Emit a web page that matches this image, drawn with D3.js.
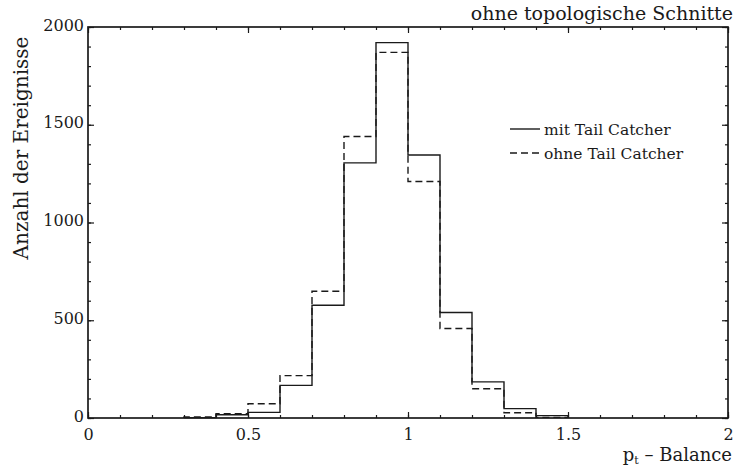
<!DOCTYPE html>
<html><head><meta charset="utf-8">
<script src="https://cdn.jsdelivr.net/npm/d3@7"></script>
<style>
body{margin:0;background:#fff;}
text{font-family:"DejaVu Serif",serif;fill:#1a1a1a;}
</style></head>
<body><svg id="c" width="735" height="470"></svg>
<script>
// data
const binStarts = [0.3,0.4,0.5,0.6,0.7,0.8,0.9,1.0,1.1,1.2,1.3,1.4];
const binWidth = 0.1;
const mitTail = [2,17,29,167,577,1305,1920,1345,540,185,48,12];
const ohneTail = [6,22,73,217,648,1440,1870,1210,458,150,27,3];
const xMajor = [0,0.5,1,1.5,2];
const xMajorLabels = ["0","0.5","1","1.5","2"];
const yMajor = [0,500,1000,1500,2000];
const seriesNames = ["mit Tail Catcher","ohne Tail Catcher"];
const title = "ohne topologische Schnitte";
const yTitle = "Anzahl der Ereignisse";

const svg = d3.select("#c");
const L=88,R=728,T=27,B=418;
const x = d3.scaleLinear().domain([0,2]).range([L,R]);
const y = d3.scaleLinear().domain([0,2000]).range([B,T]);
const col="#1a1a1a";

const minorX = d3.range(0,2.0001,0.1);
const minorY = d3.range(0,2000.1,100);

function styleAxis(g){g.select(".domain").remove();g.selectAll("line").attr("stroke",col).attr("stroke-width",1.2);}
// bottom
svg.append("g").attr("transform",`translate(0,${B})`)
 .call(d3.axisBottom(x).tickValues(minorX).tickSize(-3).tickFormat(""))
 .call(styleAxis);
svg.append("g").attr("transform",`translate(0,${B})`)
 .call(d3.axisBottom(x).tickValues(xMajor).tickSize(-6).tickPadding(11).tickFormat((d,i)=>xMajorLabels[i]))
 .call(styleAxis)
 .call(g=>g.selectAll("text").attr("font-size",16).attr("font-family","DejaVu Serif").attr("fill",col));
// top
svg.append("g").attr("transform",`translate(0,${T})`)
 .call(d3.axisTop(x).tickValues(minorX).tickSize(-3).tickFormat("")).call(styleAxis);
svg.append("g").attr("transform",`translate(0,${T})`)
 .call(d3.axisTop(x).tickValues(xMajor).tickSize(-6).tickFormat("")).call(styleAxis);
// left
svg.append("g").attr("transform",`translate(${L},0)`)
 .call(d3.axisLeft(y).tickValues(minorY).tickSize(-3).tickFormat("")).call(styleAxis);
svg.append("g").attr("transform",`translate(${L},0)`)
 .call(d3.axisLeft(y).tickValues(yMajor).tickSize(-6).tickPadding(4).tickFormat(d3.format("d")))
 .call(styleAxis)
 .call(g=>g.selectAll("text").attr("font-size",16).attr("font-family","DejaVu Serif").attr("fill",col).attr("dy","0.2em"));
// right
svg.append("g").attr("transform",`translate(${R},0)`)
 .call(d3.axisRight(y).tickValues(minorY).tickSize(-3).tickFormat("")).call(styleAxis);
svg.append("g").attr("transform",`translate(${R},0)`)
 .call(d3.axisRight(y).tickValues(yMajor).tickSize(-6).tickFormat("")).call(styleAxis);

// frame
svg.append("rect").attr("x",L).attr("y",T).attr("width",R-L).attr("height",B-T)
 .attr("fill","none").attr("stroke",col).attr("stroke-width",1.7);

// histograms
function stepPts(vals){
  const pts=[[binStarts[0],0]];
  vals.forEach((v,i)=>{pts.push([binStarts[i],v]);pts.push([binStarts[i]+binWidth,v]);});
  pts.push([binStarts[binStarts.length-1]+binWidth,0]);
  return pts;
}
const line=d3.line().x(d=>x(d[0])).y(d=>y(d[1]));
svg.append("path").attr("d",line(stepPts(ohneTail))).attr("fill","none")
 .attr("stroke",col).attr("stroke-width",1.4).attr("stroke-dasharray","7,4");
svg.append("path").attr("d",line(stepPts(mitTail))).attr("fill","none")
 .attr("stroke",col).attr("stroke-width",1.4);

// legend
const lg=svg.append("g");
[0,1].forEach(i=>{
  const ly=129+i*24;
  lg.append("line").attr("x1",510).attr("x2",540).attr("y1",ly).attr("y2",ly)
   .attr("stroke",col).attr("stroke-width",1.4).attr("stroke-dasharray",i?"7,4":null);
  lg.append("text").attr("x",544).attr("y",ly+6).attr("font-size",15.5).text(seriesNames[i]);
});

// titles
svg.append("text").attr("x",733).attr("y",20).attr("text-anchor","end").attr("font-size",19).text(title);
svg.append("text").attr("transform","translate(28,148) rotate(-90)").attr("text-anchor","middle")
 .attr("font-size",20).text(yTitle);
const xt=svg.append("text").attr("x",732).attr("y",461).attr("text-anchor","end").attr("font-size",18);
xt.append("tspan").text("p");
xt.append("tspan").attr("font-size",11).attr("dy",3).text("t");
xt.append("tspan").attr("dy",-3).text(" \u2013 Balance");
</script></body></html>
